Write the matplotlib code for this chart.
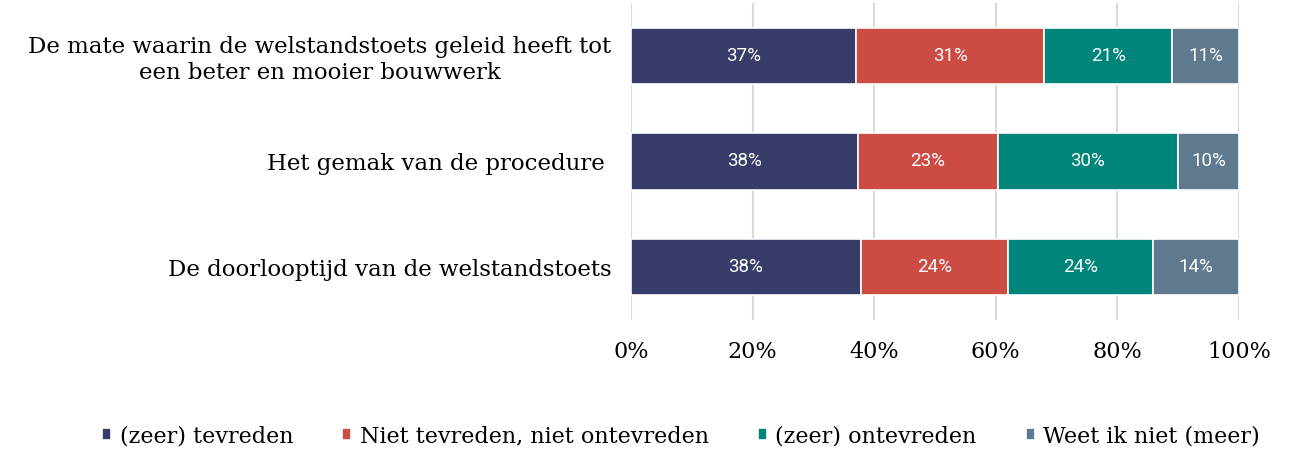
import matplotlib
matplotlib.use("Agg")
import matplotlib.pyplot as plt
import numpy as np

# data
categories = [
    "De mate waarin de welstandstoets geleid heeft tot\neen beter en mooier bouwwerk",
    "Het gemak van de procedure ",
    "De doorlooptijd van de welstandstoets",
]
series_names = ["(zeer) tevreden", "Niet tevreden, niet ontevreden",
                "(zeer) ontevreden", "Weet ik niet (meer)"]
tevreden = [37, 37.4, 37.8]
neutraal = [31, 22.9, 24.2]
ontevreden = [21, 29.7, 23.8]
weet_niet = [11, 10.0, 14.2]
label_texts = [
    ["37%", "38%", "38%"],
    ["31%", "23%", "24%"],
    ["21%", "30%", "24%"],
    ["11%", "10%", "14%"],
]
colors = ["#383c68", "#cc4c44", "#00857a", "#5f7a8f"]
xticks = [0, 20, 40, 60, 80, 100]

fig = plt.figure(figsize=(12.94, 4.49), dpi=100)
ax = fig.add_axes([631 / 1294, 1 - 320 / 449, 608 / 1294, 317 / 449])

y = np.arange(len(categories))
left = np.zeros(len(categories))
for vals, col, name, labs in zip([tevreden, neutraal, ontevreden, weet_niet],
                                 colors, series_names, label_texts):
    vals = np.array(vals)
    bars = ax.barh(y, vals, left=left, height=0.535, color=col,
                   edgecolor="white", linewidth=1.2, label=name, zorder=3)
    for b, t in zip(bars, labs):
        ax.text(b.get_x() + b.get_width() / 2, b.get_y() + b.get_height() / 2, t,
                ha="center", va="center", color="white", fontsize=13.5,
                family="Roboto", zorder=4)
    left += vals

ax.set_xlim(0, 100)
ax.set_ylim(2.5, -0.5)
ax.set_xticks(xticks)
ax.set_xticklabels([f"{v}%" for v in xticks], family="DejaVu Serif", fontsize=16)
ax.set_yticks(y)
ax.set_yticklabels(categories, family="DejaVu Serif", fontsize=16.5,
                   multialignment="center", linespacing=1.2)
ax.tick_params(length=0, axis="both")
ax.tick_params(axis="x", pad=15)
ax.tick_params(axis="y", pad=14)
ax.grid(axis="x", color="#d9d9d9", linewidth=1.5, zorder=0)
for s in ax.spines.values():
    s.set_visible(False)

handles, labels = ax.get_legend_handles_labels()
fig.legend(handles, labels, loc="center", bbox_to_anchor=(681 / 1294, 1 - 436 / 449),
           ncol=4, frameon=False, prop={"family": "DejaVu Serif", "size": 16},
           handlelength=0.4, handleheight=0.4, handletextpad=0.4, columnspacing=2.2)

fig.savefig("out.png", dpi=100)
